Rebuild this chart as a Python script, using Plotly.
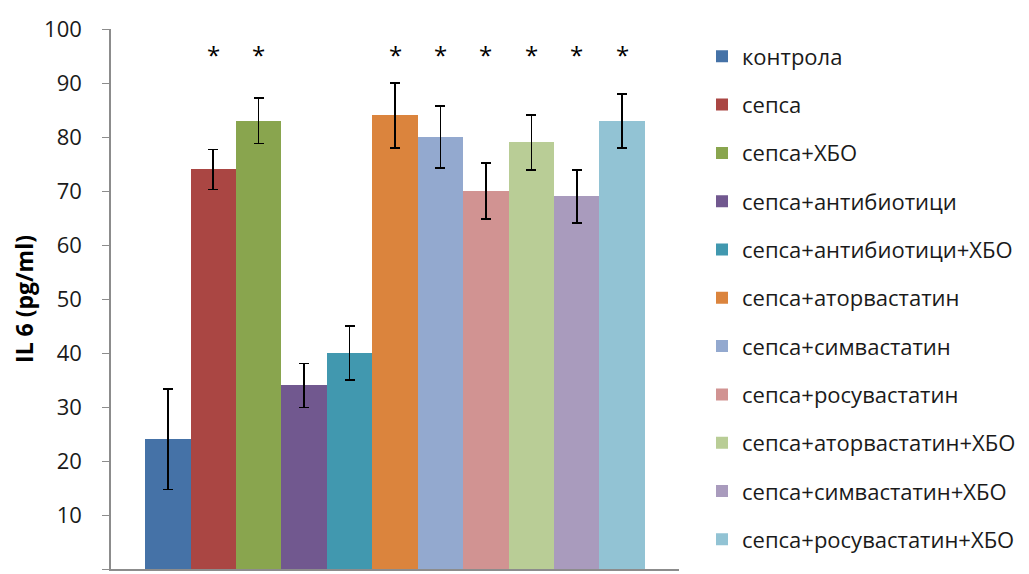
import plotly.graph_objects as go

# ─── Data ─────────────────────────────────────────────────────────────────────

GROUPS = [
    "контрола",
    "сепса",
    "сепса+ХБО",
    "сепса+антибиотици",
    "сепса+антибиотици+ХБО",
    "сепса+аторвастатин",
    "сепса+симвастатин",
    "сепса+росувастатин",
    "сепса+аторвастатин+ХБО",
    "сепса+симвастатин+ХБО",
    "сепса+росувастатин+ХБО",
]
IL6_MEAN = [24, 74, 83, 34, 40, 84, 80, 70, 79, 69, 83]
IL6_ERR = [9.3, 3.7, 4.2, 4.1, 5.0, 6.0, 5.7, 5.2, 5.1, 4.9, 5.0]
SIGNIFICANT = [False, True, True, False, False, True, True, True, True, True, True]

BAR_COLORS = [
    "#4572A7", "#AA4643", "#89A54E", "#71588F", "#4198AF", "#DB843D",
    "#93A9CF", "#D19392", "#B9CD96", "#A99BBD", "#92C3D4",
]

FONT = "Open Sans, Liberation Sans, Arial, sans-serif"
AXIS_GREY = "#8c8c8c"

# ─── Figure ───────────────────────────────────────────────────────────────────

fig = go.Figure()

for i, (name, val, err) in enumerate(zip(GROUPS, IL6_MEAN, IL6_ERR)):
    fig.add_trace(go.Bar(
        x=[i], y=[val],
        width=1,
        name=name,
        legendgroup=name,
        marker=dict(color=BAR_COLORS[i], line=dict(width=0)),
        error_y=dict(type="data", array=[err], color="#000000",
                     thickness=1.5, width=5),
    ))

# significance stars above bars
for i, sig in enumerate(SIGNIFICANT):
    if sig:
        fig.add_annotation(
            x=i, y=95.3, text="*", showarrow=False,
            font=dict(family=FONT, size=24, color="#000000"),
            yanchor="middle",
        )

# page body has an 8px margin, so the figure is sized/offset to compensate
fig.update_layout(
    width=1021, height=566,
    paper_bgcolor="white",
    plot_bgcolor="white",
    barmode="overlay",
    bargap=0,
    font=dict(family=FONT, color="#1a1a1a"),
    margin=dict(l=103, r=350, t=18, b=5),
    showlegend=True,
    legend=dict(
        x=1.0405, xanchor="left",
        y=0.988, yanchor="top",
        font=dict(family=FONT, size=22, color="#1a1a1a"),
        tracegroupgap=16.7,
        itemwidth=30,
        bgcolor="rgba(0,0,0,0)",
    ),
)

fig.update_xaxes(
    range=[-1.25, 11.25],
    showticklabels=False,
    ticks="",
    showgrid=False,
    zeroline=False,
    showline=True,
    linecolor=AXIS_GREY,
    linewidth=1.5,
)

fig.update_yaxes(
    range=[0, 100],
    tickmode="linear", tick0=0, dtick=10,
    ticks="outside", ticklen=7, tickcolor=AXIS_GREY, tickwidth=1,
    ticklabelstandoff=16,
    showgrid=False,
    zeroline=False,
    showline=True,
    linecolor=AXIS_GREY,
    linewidth=1.5,
    tickfont=dict(family=FONT, size=22, color="#1a1a1a"),
    title=dict(text="<b>IL 6 (pg/ml)</b>",
               font=dict(family=FONT, size=23, color="#000000"),
               standoff=10),
)

fig.write_html("out.html")
